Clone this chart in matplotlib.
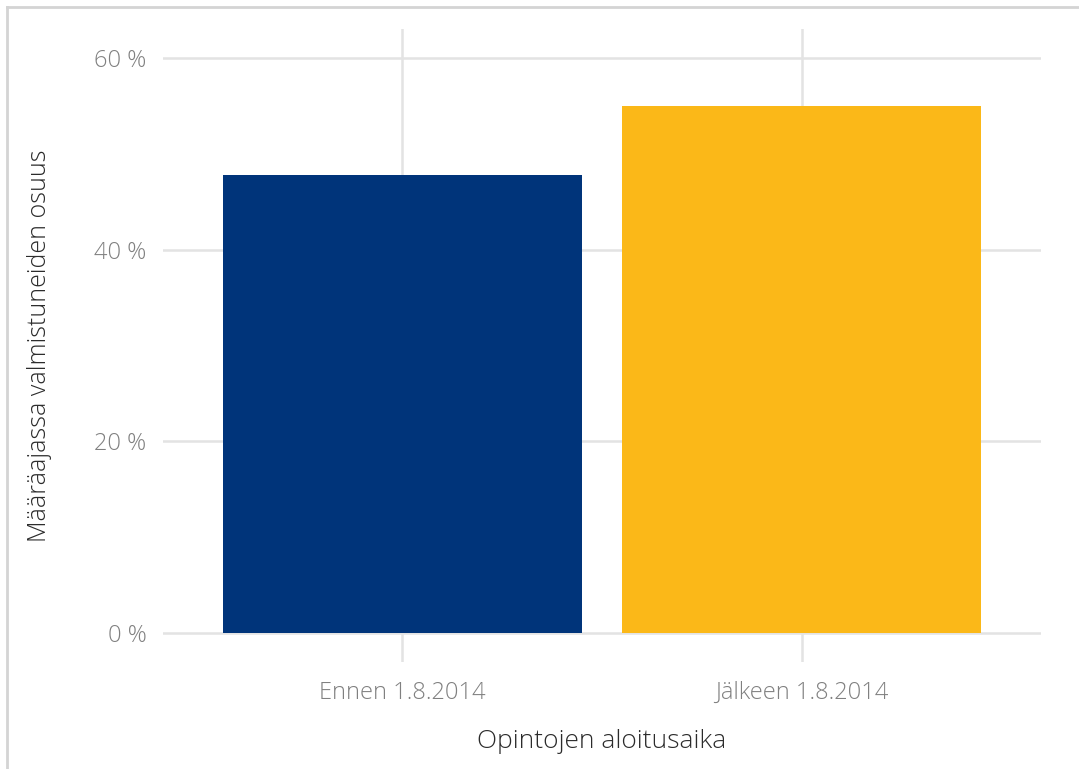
import numpy as np
import matplotlib.pyplot as plt
from matplotlib.lines import Line2D
from matplotlib.ticker import FuncFormatter

# data
categories = ["Ennen 1.8.2014", "Jälkeen 1.8.2014"]
shares = [47.8, 55.0]
bar_colors = ["#00347A", "#FBB818"]
yticks = [0, 20, 40, 60]

plt.rcParams['font.family'] = ['Open Sans', 'DejaVu Sans']

fig = plt.figure(figsize=(10.79, 7.69), dpi=100)
ax = fig.add_axes([0.1511, 0.1395, 0.8137, 0.8224])

x = np.arange(1, len(categories) + 1)
ax.bar(x, shares, width=0.9, color=bar_colors, zorder=3)

ax.set_xlim(0.4, 2.6)
ax.set_ylim(-3, 63)
ax.set_xticks(x)
ax.set_xticklabels(categories)
ax.set_yticks(yticks)
ax.yaxis.set_major_formatter(FuncFormatter(lambda v, p: "%d %%" % v))

ax.grid(True, color="#e3e3e3", linewidth=1.8, zorder=0)
for s in ax.spines.values():
    s.set_visible(False)
ax.tick_params(length=0, labelsize=17, labelcolor="#808080")
ax.tick_params(axis="x", pad=14)
ax.tick_params(axis="y", pad=12)
for lab in ax.get_xticklabels() + ax.get_yticklabels():
    lab.set_fontweight("light")

ax.set_xlabel("Opintojen aloitusaika", fontsize=19, color="#2b2b2b",
              fontweight="light", labelpad=17)
ax.set_ylabel("Määräajassa valmistuneiden osuus", fontsize=18, color="#2b2b2b",
              fontweight="light", labelpad=30)

# outer frame (only top and left are in view)
fig.add_artist(Line2D([7 / 1079, 1], [1 - 7 / 769, 1 - 7 / 769],
                      transform=fig.transFigure, color="#d4d4d4", linewidth=2))
fig.add_artist(Line2D([7 / 1079, 7 / 1079], [0, 1 - 7 / 769],
                      transform=fig.transFigure, color="#d4d4d4", linewidth=2))

fig.savefig("out.png", dpi=100)
